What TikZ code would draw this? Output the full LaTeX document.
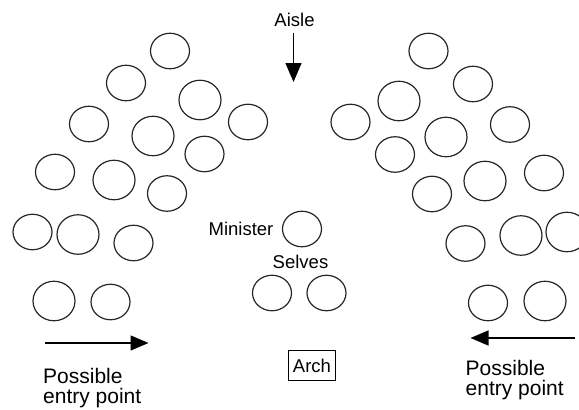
\documentclass[tikz,border=0pt]{standalone}
\usepackage{fontspec}
\setmainfont{Liberation Sans}
\usetikzlibrary{arrows.meta,shapes.geometric,positioning}
\tikzset{
  seat/.style={
      ellipse,
      draw=black!85,
      line width=1.2pt,
      inner sep=0pt,
      minimum width=39pt,
      minimum height=35.5pt
  },
  bigseat/.style={
      seat,
      minimum width=42pt,
      minimum height=39.5pt
  },
  lbl/.style={
      font=\fontsize{18.5}{20}\selectfont
  },
  entry/.style={
      align=left,
      inner sep=0pt,
      anchor=north west,
      font=\fontsize{21}{20.5}\selectfont
  },
  way/.style={
      line width=1.4pt,
      -{Triangle[length=18pt,width=15pt]}
  }
}

\begin{document}
\begin{tikzpicture}[x=1pt,y=-1pt]
    \useasboundingbox (0,0) rectangle (579,410);

    \node[seat] (l1) at (170,51) {};
    \node[seat] (l2) at (126,83) {};
    \node[bigseat] (l3) at (200,100) {};
    \node[seat] (l4) at (248,122) {};
    \node[seat] (l5) at (89,124) {};
    \node[bigseat] (l6) at (153,136) {};
    \node[seat] (l7) at (204.5,154) {};
    \node[seat] (l8) at (55,172) {};
    \node[bigseat] (l9) at (114,180) {};
    \node[seat] (l10) at (167,193.5) {};
    \node[seat] (l11) at (32.5,232) {};
    \node[bigseat] (l12) at (78,234.5) {};
    \node[seat] (l13) at (133.5,243) {};
    \node[bigseat] (l14) at (54,301) {};
    \node[seat] (l15) at (110.5,302) {};

    \node[seat] (r1) at (428.5,51) {};
    \node[seat] (r2) at (473,84) {};
    \node[bigseat] (r3) at (399,101) {};
    \node[seat] (r4) at (350.5,122) {};
    \node[seat] (r5) at (510,124.5) {};
    \node[bigseat] (r6) at (446,137) {};
    \node[seat] (r7) at (395,154.5) {};
    \node[seat] (r8) at (544,173) {};
    \node[bigseat] (r9) at (485,181) {};
    \node[seat] (r10) at (432,194) {};
    \node[seat] (r11) at (465.5,243.5) {};
    \node[bigseat] (r12) at (521,235.5) {};
    \node[bigseat] (r13) at (567,232) {};
    \node[seat] (r14) at (488,303) {};
    \node[bigseat] (r15) at (545,301) {};

    \node[seat] (minister) at (302,229) {};
    \node[lbl,left=5pt of minister] (ministerlbl) {Minister};
    \node[lbl,anchor=base] (selveslbl) at (300.5,268.3) {Selves};
    \node[seat] (selfa) at (272,293) {};
    \node[seat] (selfb) at (326.5,293) {};
    \node[lbl,draw,line width=0.9pt,inner sep=0pt,minimum width=47pt,minimum height=30pt] (arch) at (312,365.5) {Arch};

    \node[lbl,anchor=base] (aisle) at (294.5,26.5) {Aisle};
    \coordinate (aisletop) at (293.5,33);
    \coordinate (aisletip) at (293.5,82);
    \draw[way,-{Triangle[length=19pt,width=16pt]}] (aisletop) -- (aisletip);

    \coordinate (lefttail) at (45,343);
    \coordinate (lefttip) at (148.5,343);
    \draw[way] (lefttail) -- (lefttip);
    \node[entry] (leftentry) at (43,368) {Possible\\entry point};

    \coordinate (righttail) at (575,338);
    \coordinate (righttip) at (470.5,338);
    \draw[way] (righttail) -- (righttip);
    \node[entry] (rightentry) at (465.5,360) {Possible\\entry point};
\end{tikzpicture}
\end{document}
